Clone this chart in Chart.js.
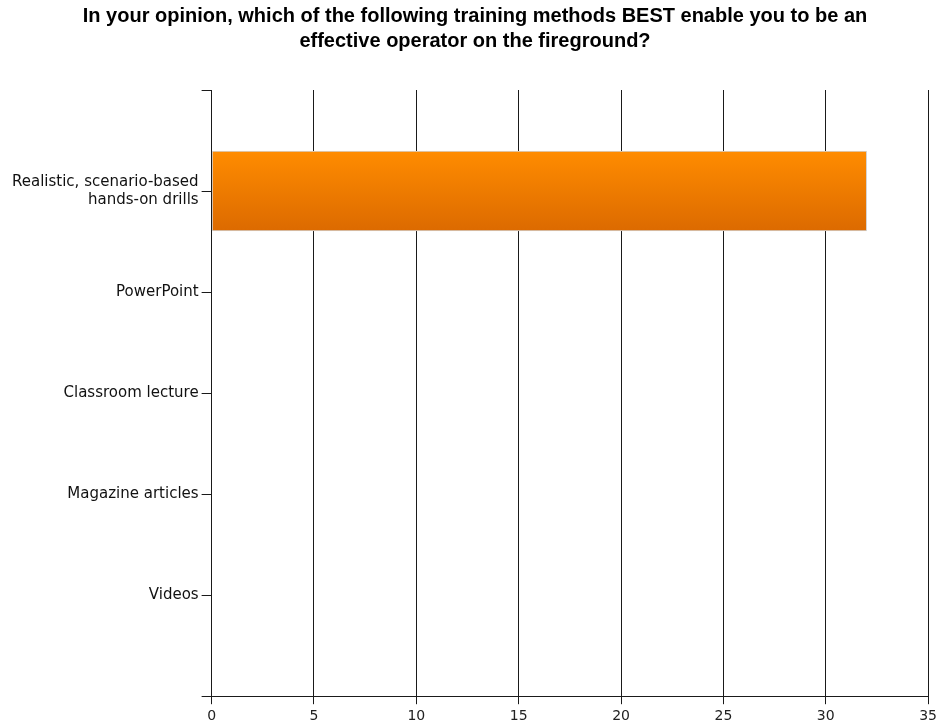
<!DOCTYPE html>
<html>
<head>
<meta charset="utf-8">
<script src="https://cdn.jsdelivr.net/npm/chart.js@4"></script>
<style>
  html, body { margin: 0; padding: 0; background: #fff; }
  #wrap { width: 941px; height: 725px; }
</style>
</head>
<body>
<div id="wrap"><canvas id="chart"></canvas></div>
<script>
const titleLines = [
  "In your opinion, which of the following training methods BEST enable you to be an",
  "effective operator on the fireground?",
];
const categories = [
  ["Realistic, scenario-based", "hands-on drills"],
  "PowerPoint",
  "Classroom lecture",
  "Magazine articles",
  "Videos",
];
const counts = [32, 0, 0, 0, 0];
const xMax = 35;
const xStep = 5;

// blank slot above and below, so category ticks sit between the axis ends
const labels = ["", ...categories, ""];
const values = [null, ...counts, null];

const barFill = (c) => {
  const chart = c.chart;
  const y = chart.scales && chart.scales.y;
  if (!chart.chartArea || !y) return "#f08000";
  const mid = y.getPixelForValue(c.dataIndex);
  const g = chart.ctx.createLinearGradient(0, mid - 40, 0, mid + 40);
  g.addColorStop(0, "#ff8c00");
  g.addColorStop(1, "#dc6a00");
  return g;
};

const ctx = document.getElementById("chart").getContext("2d");
new Chart(ctx, {
  type: "bar",
  data: {
    labels: labels,
    datasets: [
      {
        data: values,
        backgroundColor: barFill,
        borderColor: "#d4d4d4",
        borderWidth: 1,
        borderSkipped: false,
        barThickness: 80,
      },
    ],
  },
  options: {
    indexAxis: "y",
    responsive: true,
    maintainAspectRatio: false,
    animation: false,
    layout: { padding: { left: 9, right: 0, top: 0, bottom: -4 } },
    scales: {
      x: {
        min: 0,
        max: xMax,
        ticks: {
          stepSize: xStep,
          color: "#222",
          padding: 4,
          font: { family: "DejaVu Sans, Verdana, sans-serif", size: 14 },
        },
        grid: { color: "#1a1a1a", lineWidth: 1, tickLength: 8 },
        border: { color: "#1a1a1a", width: 1 },
      },
      y: {
        offset: false,
        ticks: {
          autoSkip: false,
          color: "#111",
          padding: 3,
          font: { family: "DejaVu Sans, Verdana, sans-serif", size: 15 },
        },
        grid: {
          offset: false,
          drawOnChartArea: false,
          color: "#1a1a1a",
          tickLength: 10,
        },
        border: { color: "#1a1a1a", width: 1 },
      },
    },
    plugins: {
      legend: { display: false },
      tooltip: { enabled: false },
      title: {
        display: true,
        text: titleLines,
        color: "#000",
        font: {
          family: "Liberation Sans, Arial, sans-serif",
          size: 20,
          weight: "bold",
          lineHeight: 1.25,
        },
        padding: { top: 4, bottom: 36 },
      },
    },
  },
});
</script>
</body>
</html>
